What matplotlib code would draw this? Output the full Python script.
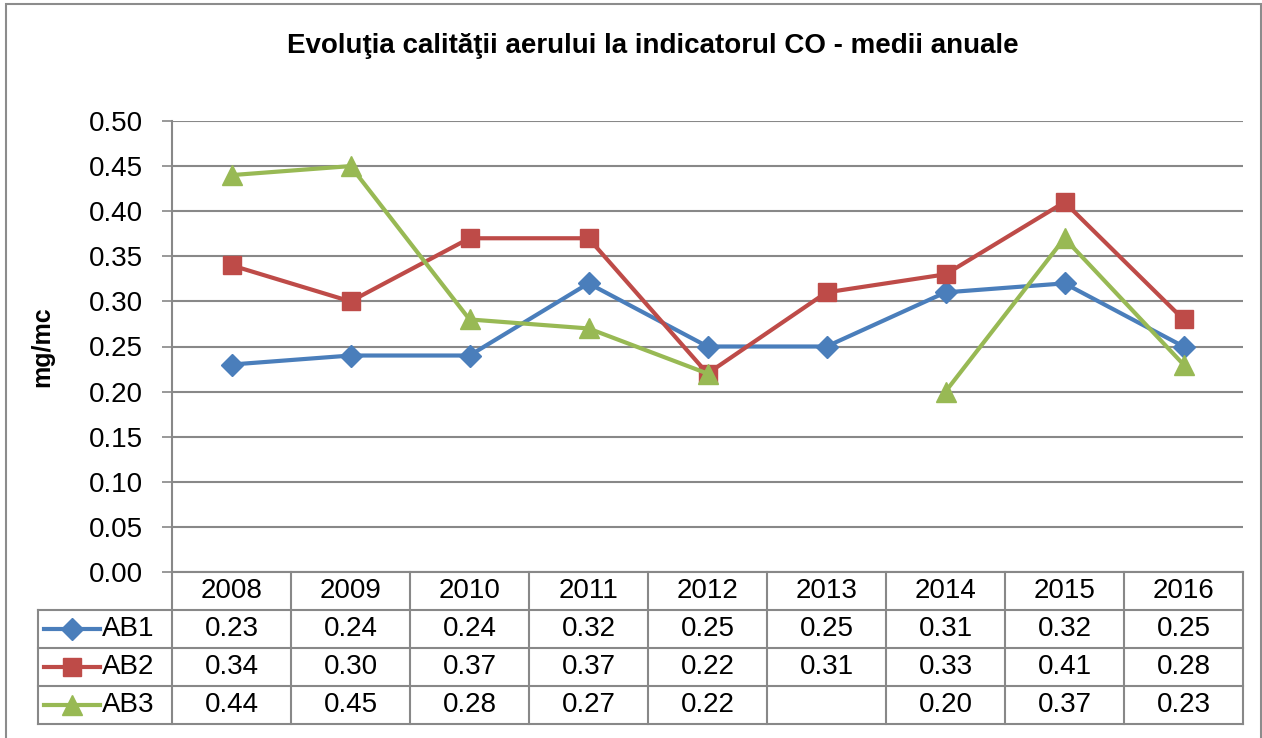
import numpy as np
import matplotlib.pyplot as plt
import matplotlib.transforms as mtransforms
from matplotlib.lines import Line2D
from matplotlib.patches import Rectangle

plt.rcParams['font.family'] = ['Liberation Sans', 'DejaVu Sans']

years = ['2008', '2009', '2010', '2011', '2012', '2013', '2014', '2015', '2016']
ab1 = [0.23, 0.24, 0.24, 0.32, 0.25, 0.25, 0.31, 0.32, 0.25]
ab2 = [0.34, 0.30, 0.37, 0.37, 0.22, 0.31, 0.33, 0.41, 0.28]
ab3 = [0.44, 0.45, 0.28, 0.27, 0.22, np.nan, 0.20, 0.37, 0.23]
names = ['AB1', 'AB2', 'AB3']
colors = ['#4A7EBB', '#BE4B48', '#98B954']
markers = ['D', 's', '^']
msizes = [11, 13, 15]

W, H = 1262, 738
fig = plt.figure(figsize=(W / 100, H / 100), dpi=100)

def fx(px):
    return px / W

def fy(py):
    return 1 - py / H

# rama exterioara a graficului
fig.patches.append(Rectangle((fx(6), fy(760)), fx(1261) - fx(6), fy(4) - fy(760),
                             transform=fig.transFigure, fill=False,
                             edgecolor='#8c8c8c', lw=1.5))

ax = fig.add_axes([fx(172), fy(572), fx(1243) - fx(172), fy(121) - fy(572)])
x = np.arange(len(years))
for vals, c, m, ms in zip([ab1, ab2, ab3], colors, markers, msizes):
    ax.plot(x, vals, color=c, lw=3, marker=m, markersize=ms, zorder=3)

gray = '#888888'
fs = 20
ax.set_xlim(-0.5, len(years) - 0.5)
ax.set_ylim(0, 0.5)
ax.set_yticks(np.arange(0, 0.501, 0.05))
ax.set_yticklabels(['%.2f' % v for v in np.arange(0, 0.501, 0.05)])
ax.set_xticks([])
ax.yaxis.grid(True, color=gray, lw=1.5)
ax.set_axisbelow(True)
for s in ['top', 'right']:
    ax.spines[s].set_visible(False)
for s in ['left', 'bottom']:
    ax.spines[s].set_color(gray)
    ax.spines[s].set_linewidth(1.5)
ax.tick_params(axis='y', length=7, width=1.2, color=gray, pad=14, labelsize=fs)

ax.set_ylabel('mg/mc', fontsize=18, fontweight='bold', labelpad=25)
fig.text(0.517, fy(46), 'Evoluţia calităţii aerului la indicatorul CO - medii anuale',
         ha='center', va='center', fontsize=20, fontweight='bold')

# tabelul de date de sub grafic
tr = mtransforms.blended_transform_factory(ax.transData, ax.transAxes)
rh = 38 / 451
leg_left = -0.5 - 134 / 119
nrows = len(names)
for i in range(len(years) + 1):
    ax.add_line(Line2D([i - 0.5, i - 0.5], [0, -(nrows + 1) * rh], transform=tr,
                       color=gray, lw=1.5, clip_on=False))
ax.add_line(Line2D([leg_left, leg_left], [-rh, -(nrows + 1) * rh], transform=tr,
                   color=gray, lw=1.5, clip_on=False))
for r in range(1, nrows + 2):
    ax.add_line(Line2D([leg_left, len(years) - 0.5], [-r * rh, -r * rh], transform=tr,
                       color=gray, lw=1.5, clip_on=False))

for i, y in enumerate(years):
    ax.text(i, -0.5 * rh, y, transform=tr, ha='center', va='center', fontsize=fs)

for r, (name, vals, c, m, ms) in enumerate(zip(names, [ab1, ab2, ab3], colors, markers, msizes)):
    yc = -(r + 1.5) * rh
    for i, v in enumerate(vals):
        if not np.isnan(v):
            ax.text(i, yc, '%.2f' % v, transform=tr, ha='center', va='center', fontsize=fs)
    ax.add_line(Line2D([leg_left + 6 / 119, leg_left + 62 / 119], [yc, yc], transform=tr,
                       color=c, lw=3, clip_on=False))
    ax.add_line(Line2D([leg_left + 34 / 119], [yc], transform=tr, color=c, marker=m,
                       markersize=ms, clip_on=False))
    ax.text(leg_left + 64 / 119, yc, name, transform=tr, ha='left', va='center', fontsize=fs)

fig.savefig('out.png', dpi=100)
